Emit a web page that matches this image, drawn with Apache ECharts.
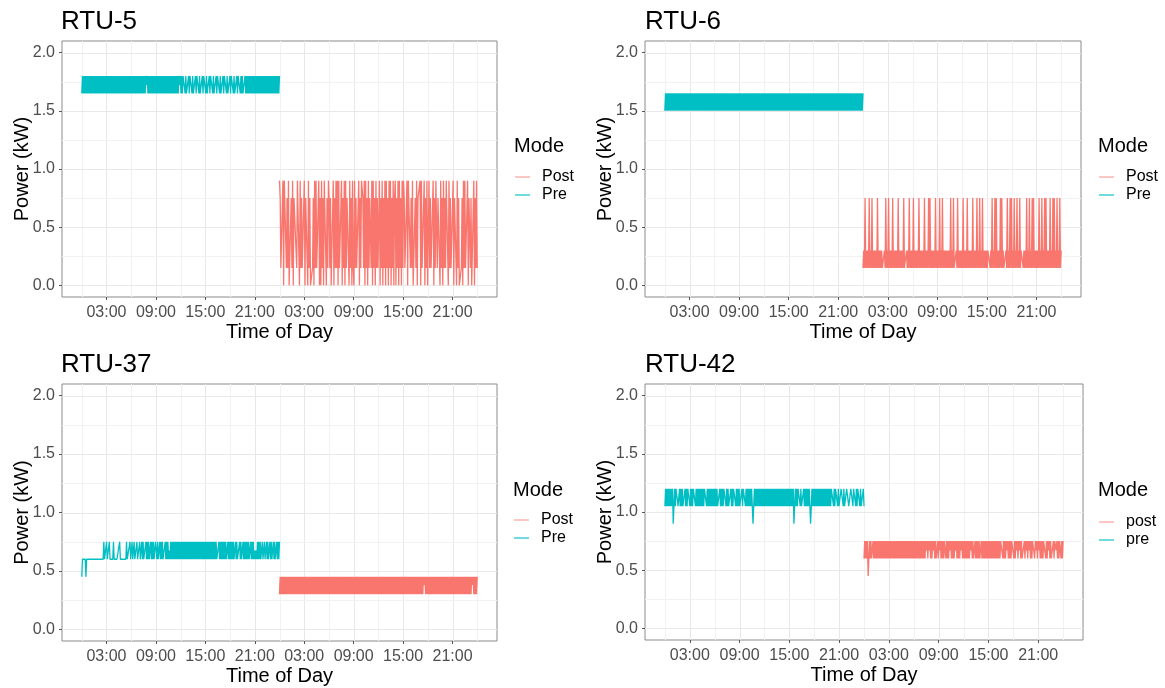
<!DOCTYPE html>
<html><head><meta charset="utf-8">
<script src="https://cdn.jsdelivr.net/npm/echarts@6/dist/echarts.min.js"></script>
<style>html,body{margin:0;padding:0;background:#fff}#c{width:1165px;height:688px}</style>
</head><body><div id="c"></div>
<script>
// ---------- data ----------
const panelTitles = ['RTU-5', 'RTU-6', 'RTU-37', 'RTU-42'];
const modeNames = [['Post', 'Pre'], ['Post', 'Pre'], ['Post', 'Pre'], ['post', 'pre']];
const xTickHours = [3, 9, 15, 21, 27, 33, 39, 45];
const xTickLabels = ['03:00', '09:00', '15:00', '21:00', '03:00', '09:00', '15:00', '21:00'];
const xMinorHours = [0, 6, 12, 18, 24, 30, 36, 42, 48];
const yTicks = [0, 0.5, 1, 1.5, 2];
const yTickLabels = ['0.0', '0.5', '1.0', '1.5', '2.0'];
const yMinor = [0.25, 0.75, 1.25, 1.75];

// Pre = day 1 (0-24 h), Post = day 2 (24-48 h).
// Each series: power levels (kW) and, per hour, twelve 5-minute readings (index into levels).
const rtu5PreLevels = [1.65, 1.8, 1.72];
const rtu5PreCodes = [
  '010101010101','010101010101','010101010101','010101010101','010101010101','010101010101',
  '010101010101','010101010121','010101010101','010101010101','010101010101','010101010121',
  '010111010001','011101000101','110100010111','010001011101','000101110100','010111010001',
  '011101000101','110101000101','010101010101','010101010101','010101010101','010101010101'];
const rtu5PostLevels = [0, 0.15, 0.75, 0.9];
const rtu5PostCodes = [
  '321113033312','130002130222','213330312111','302220312000','120313111302','031203330213',
  '212000302131','303111302130','312220312031','031211130213','321303120312','213031203121',
  '130213021303','120313021302','302130312031','321113033312','130002130222','303111302130',
  '031211130213','312220312031','213330312111','302220312000','120313111302','212000302131'];

const rtu6PreLevels = [1.5, 1.65];
const rtu6PreCodes = [
  '010101010101','010101010101','010101010101','010101010101','010101010101','010101010101',
  '010101010101','010101010101','010101010101','010101010101','010101010101','010101010101',
  '010101010101','010101010101','010101010101','010101010101','010101010101','010101010101',
  '010101010101','010101010101','010101010101','010101010101','010101010101','010101010101'];
const rtu6PostLevels = [0.15, 0.3, 0.75];
const rtu6PostCodes = [
  '010201010201','020101010201','010100010201','020101020101','010201010102','000101020101',
  '020101010201','010102010102','020101010201','010201020101','010101020102','000102010101',
  '020101020101','010201010201','020102010101','011101020102','020101020201','000102010202',
  '010201020102','011101010201','020102020101','010201020102','020101020102','020102010201'];

const rtu37PreLevels = [0.45, 0.6, 0.75, 0.675];
const rtu37PreCodes = [
  '011111011111','111111111111','111111112111','211121111121','111111121111','111112111121',
  '121121112111','211212111212','121121212112','212112121211','121212131212','121212121212',
  '121212121212','121212121212','121212121212','121212121212','121211121212','121212112121',
  '212121121211','121211212121','212112121213','131212121121','121121211212','112121121212'];
const rtu37PostLevels = [0.3, 0.45, 0.38];
const rtu37PostCodes = [
  '010101010101','010101010101','010101010101','010101010101','010101010101','010101010101',
  '010101010101','010101010101','010101010101','010101010101','010101010101','010101010101',
  '010101010101','010101010101','010101010101','010101010101','010101010101','010101210101',
  '010101010101','010101010101','010101010101','010101010101','010101010101','010121010101'];

const rtu42PreLevels = [1.05, 1.2, 0.9];
const rtu42PreCodes = [
  '010101010101','201011100101','010001010111','010101110101','010101010111','010101010101',
  '010100010101','011101010001','010111010101','000101110101','010101020101','010101010101',
  '010101010101','010101010101','010101010101','010101201010','111010001010','101010201010',
  '101010101010','101010101010','111010111010','001110100011','100011101110','101110100010'];
const rtu42PostLevels = [0.6, 0.75, 0.45, 0.67];
const rtu42PostCodes = [
  '010101201010','010101010101','010101010101','010101010101','010101010101','010101010101',
  '010101010101','010101310131','010131010310','131010101301','010131010101','310101013101',
  '010101010131','010310101010','010101010101','010101010101','010101110101','013101010111',
  '010131013101','000101310131','010111013101','310101011101','013101000101','131010110101'];

// ---------- layout / style ----------
const FONT = '"Liberation Sans", Arial, sans-serif';
const COL_POST = '#F8766D', COL_PRE = '#00BFC4';
const gridBoxes = [
  {left: 62, top: 41, width: 435, height: 256},
  {left: 645, top: 41, width: 436, height: 256},
  {left: 62, top: 384, width: 435, height: 257},
  {left: 645, top: 384, width: 438, height: 256}
];
const titlePos = [[61, 9], [645, 9], [61, 352], [645, 352]];
const modePos = [[514, 136], [1098, 136], [513, 480], [1098, 480]];
const legendPos = [[515, 168], [1099, 168], [514, 511], [1099, 513]];

const panelData = [
  [[rtu5PostLevels, rtu5PostCodes], [rtu5PreLevels, rtu5PreCodes]],
  [[rtu6PostLevels, rtu6PostCodes], [rtu6PreLevels, rtu6PreCodes]],
  [[rtu37PostLevels, rtu37PostCodes], [rtu37PreLevels, rtu37PreCodes]],
  [[rtu42PostLevels, rtu42PostCodes], [rtu42PreLevels, rtu42PreCodes]]
];

function toPoints(levels, codes, start) {
  const s = codes.join('');
  const n = s.length;
  return Array.from(s, (c, i) => [start + i * 24 / (n - 1), levels[+c]]);
}

function gridLinesSeries(i) {
  const data = [];
  xMinorHours.forEach(v => data.push([0, v, 1]));
  xTickHours.forEach(v => data.push([0, v, 2]));
  yMinor.forEach(v => data.push([1, v, 1]));
  yTicks.forEach(v => data.push([1, v, 2]));
  return {
    type: 'custom', name: 'gridlines', xAxisIndex: i, yAxisIndex: i, silent: true, z: 1,
    animation: false, clip: true, data: data,
    encode: {x: 1, y: 1},
    renderItem: function (params, api) {
      const cs = params.coordSys;
      const dir = api.value(0), v = api.value(1), major = api.value(2) === 2;
      let shape;
      if (dir === 0) {
        const x = Math.round(api.coord([v, 0])[0]) + 0.5;
        shape = {x1: x, y1: cs.y, x2: x, y2: cs.y + cs.height};
      } else {
        const y = Math.round(api.coord([0, v])[1]) + 0.5;
        shape = {x1: cs.x, y1: y, x2: cs.x + cs.width, y2: y};
      }
      return {type: 'line', shape: shape, style: {stroke: major ? '#e8e8e8' : '#f2f2f2', lineWidth: 1}};
    }
  };
}

const option = {
  animation: false,
  backgroundColor: '#ffffff',
  textStyle: {fontFamily: FONT},
  title: [], legend: [], grid: [], xAxis: [], yAxis: [], series: []
};

for (let i = 0; i < 4; i++) {
  option.grid.push(Object.assign({show: true, borderColor: '#8a8a8a', borderWidth: 1, backgroundColor: 'transparent', containLabel: false}, gridBoxes[i]));
  option.title.push({text: panelTitles[i], left: titlePos[i][0], top: titlePos[i][1], padding: 0,
    textStyle: {fontSize: 26, fontWeight: 'normal', color: '#000', fontFamily: FONT}});
  option.title.push({text: 'Mode', left: modePos[i][0], top: modePos[i][1], padding: 0,
    textStyle: {fontSize: 20, fontWeight: 'normal', color: '#000', fontFamily: FONT}});
  option.xAxis.push({
    gridIndex: i, type: 'value', min: -2.4, max: 50.4, position: 'bottom',
    axisLine: {show: false, onZero: false}, splitLine: {show: false},
    axisTick: {show: true, customValues: xTickHours, length: 3, lineStyle: {color: '#555'}},
    axisLabel: {customValues: xTickHours, formatter: v => xTickLabels[xTickHours.indexOf(v)],
      fontSize: 16, color: '#4d4d4d', margin: 8, fontFamily: FONT},
    name: 'Time of Day', nameLocation: 'middle', nameGap: 25, nameMoveOverlap: false,
    nameTextStyle: {fontSize: 20, color: '#000', fontFamily: FONT}
  });
  option.yAxis.push({
    gridIndex: i, type: 'value', min: -0.1, max: 2.1, position: 'left',
    axisLine: {show: false, onZero: false}, splitLine: {show: false},
    axisTick: {show: true, customValues: yTicks, length: 3, lineStyle: {color: '#555'}},
    axisLabel: {customValues: yTicks, formatter: v => yTickLabels[yTicks.indexOf(v)],
      fontSize: 16, color: '#4d4d4d', margin: 7, fontFamily: FONT},
    name: 'Power (kW)', nameLocation: 'middle', nameRotate: 90, nameGap: 30, nameMoveOverlap: false,
    nameTextStyle: {fontSize: 20, color: '#000', fontFamily: FONT}
  });
  option.series.push(gridLinesSeries(i));
  const names = modeNames[i];
  const cols = [COL_POST, COL_PRE];
  const starts = [24, 0];
  for (let m = 0; m < 2; m++) {
    const [lv, cd] = panelData[i][m];
    option.series.push({
      type: 'line', name: names[m], xAxisIndex: i, yAxisIndex: i,
      data: toPoints(lv, cd, starts[m]),
      showSymbol: false, symbol: 'none', silent: true, z: 3, clip: true,
      lineStyle: {width: 1.3, color: cols[m]}, itemStyle: {color: cols[m]}
    });
  }
  option.legend.push({
    left: legendPos[i][0], top: legendPos[i][1], orient: 'vertical', padding: 0,
    itemGap: 0, itemWidth: 15, itemHeight: 1.5, icon: 'rect', selectedMode: false,
    textStyle: {fontSize: 16, color: '#000', fontFamily: FONT, padding: [0, 0, 0, 7], lineHeight: 18},
    data: [
      {name: names[0], itemStyle: {color: COL_POST, opacity: 0.55}},
      {name: names[1], itemStyle: {color: COL_PRE, opacity: 0.75}}
    ]
  });
}

const chart = echarts.init(document.getElementById('c'), null, {renderer: 'canvas'});
chart.setOption(option);
</script>
</body></html>
